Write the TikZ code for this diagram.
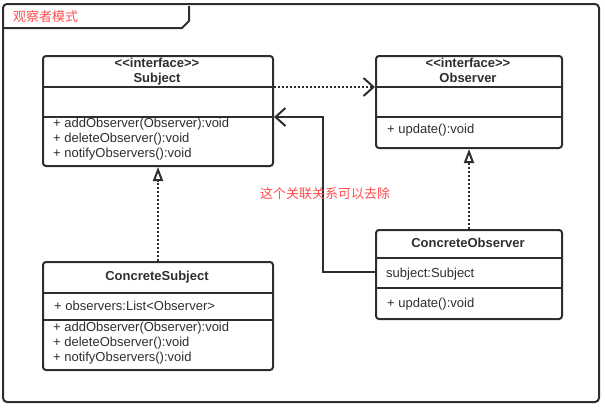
\documentclass[tikz,border=0pt]{standalone}
\usepackage{fontspec}
\setmainfont{Liberation Sans}
\newfontfamily\cjk{Noto Sans CJK SC}
\usetikzlibrary{arrows.meta}
\definecolor{ink}{HTML}{2E2E2E}
\definecolor{redtxt}{HTML}{FF4D4D}
\begin{document}
\begin{tikzpicture}[x=1pt,y=-1pt,
  umlbox/.style={draw=ink, line width=2pt, rounded corners=3pt, anchor=north west, inner sep=0pt},
  sepline/.style={draw=ink, line width=2pt},
  txt/.style={anchor=base west, inner sep=0pt, font=\fontsize{13}{15}\selectfont, text=ink},
  ctxt/.style={anchor=base, inner sep=0pt, font=\fontsize{13}{15}\selectfont\bfseries, text=ink},
  dotline/.style={draw=ink, line width=2pt, dash pattern=on 2pt off 2pt},
  solidline/.style={draw=ink, line width=2pt},
  opentip/.style={-{Straight Barb[length=10pt,width=18pt,line width=2pt]}},
  realize/.style={-{Triangle[open,length=14pt,width=10pt,line width=2pt,fill=white]}},
  redlabel/.style={anchor=base, inner sep=0pt, text=redtxt, font=\cjk\fontsize{13}{15}\selectfont}
]
\useasboundingbox (0,0) rectangle (605,407);

% frame
\draw[ink, line width=2pt, rounded corners=4pt] (3,4) rectangle (599,402);
\draw[ink, line width=2pt] (3,28) -- (182,28) -- (189,21) -- (189,6);
\node[anchor=base west, inner sep=0pt, text=redtxt, font=\cjk\fontsize{13}{15}\selectfont] (title) at (13,21) {观察者模式};

% Subject
\node[umlbox, minimum width=230pt, minimum height=110pt] (subj) at (42,55) {};
\draw[sepline] (42,87) -- (272,87);
\draw[sepline] (42,117) -- (272,117);
\node[ctxt] (subjst) at (157,67) {{<}{<}interface{>}{>}};
\node[ctxt] (subjname) at (157,82) {Subject};
\node[txt] (subjm1) at (53,127) {+ addObserver(Observer):void};
\node[txt] (subjm2) at (53,142) {+ deleteObserver():void};
\node[txt] (subjm3) at (53,157) {+ notifyObservers():void};

% Observer
\node[umlbox, minimum width=186pt, minimum height=92pt] (obs) at (375,55) {};
\draw[sepline] (375,87) -- (561,87);
\draw[sepline] (375,117) -- (561,117);
\node[ctxt] (obsst) at (468,67) {{<}{<}interface{>}{>}};
\node[ctxt] (obsname) at (468,82) {Observer};
\node[txt] (obsm1) at (387,133) {+ update():void};

% ConcreteSubject
\node[umlbox, minimum width=230pt, minimum height=108pt] (csub) at (42,261) {};
\draw[sepline] (42,293) -- (272,293);
\draw[sepline] (42,320) -- (272,320);
\node[ctxt] (csubname) at (157,280) {ConcreteSubject};
\node[txt] (csuba1) at (54,310) {+ observers:List{<}Observer{>}};
\node[txt] (csubm1) at (53,331) {+ addObserver(Observer):void};
\node[txt] (csubm2) at (53,346) {+ deleteObserver():void};
\node[txt] (csubm3) at (53,361) {+ notifyObservers():void};

% ConcreteObserver
\node[umlbox, minimum width=186pt, minimum height=89pt] (cobs) at (375,229) {};
\draw[sepline] (375,258) -- (561,258);
\draw[sepline] (375,288) -- (561,288);
\node[ctxt] (cobsname) at (468,247) {ConcreteObserver};
\node[txt] (cobsa1) at (386,277) {subject:Subject};
\node[txt] (cobsm1) at (387,307) {+ update():void};

% connectors
\draw[dotline, opentip] ([yshift=-32pt]subj.north east) -- ([yshift=-32pt]obs.north west);
\draw[solidline, opentip] ([yshift=-43pt]cobs.north west) -- ++(-52,0) |- ([yshift=-62pt]subj.north east);
\draw[dotline, realize] (csub.north) -- (subj.south);
\draw[dotline, realize] (cobs.north) -- (obs.south);

\node[redlabel] (note) at (325,198) {这个关联关系可以去除};
\end{tikzpicture}
\end{document}
